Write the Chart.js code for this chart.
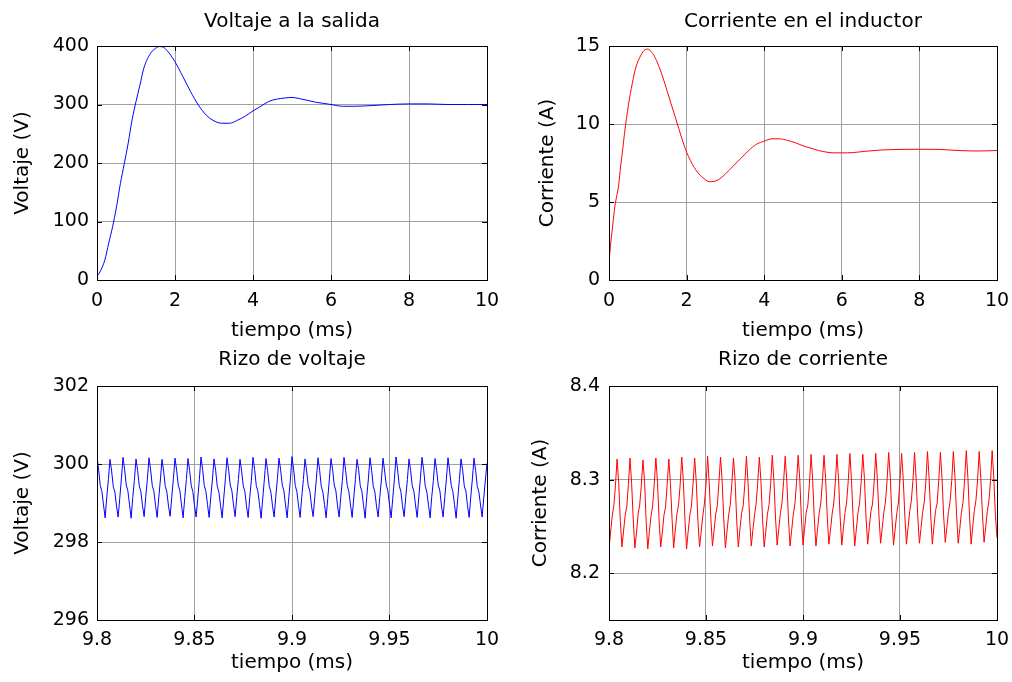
<!DOCTYPE html>
<html>
<head>
<meta charset="utf-8">
<script src="https://cdn.jsdelivr.net/npm/chart.js@4.4.0/dist/chart.umd.min.js"></script>
<style>
  body { margin: 0; background: #fff; }
  #fig { position: relative; width: 1012px; height: 682px; }
  #fig canvas { position: absolute; }
</style>
</head>
<body>
<div id="fig">
  <canvas id="c1" width="506" height="345" style="left:0;top:0"></canvas>
  <canvas id="c2" width="506" height="345" style="left:506px;top:0"></canvas>
  <canvas id="c3" width="506" height="337" style="left:0;top:345px"></canvas>
  <canvas id="c4" width="506" height="337" style="left:506px;top:345px"></canvas>
</div>
<script>
// voltaje a la salida (ms, V)
var tVolt = [0,0.1,0.2,0.3,0.4,0.5,0.6,0.7,0.8,0.9,1.0,1.1,1.2,1.3,1.4,1.5,1.6,1.7,1.8,2.0,2.2,2.4,2.6,2.8,3.0,3.2,3.4,3.6,3.8,4.0,4.2,4.4,4.6,4.8,5.0,5.2,5.4,5.6,5.8,6.0,6.3,6.6,7.0,7.5,8.0,8.5,9.0,9.5,10];
var vSalida = [6,17,34,63,91,125,165,199,234,274,305,333,362,379,390,396,399,398,392,373,348,322,299,282,272,268,268,273,280,289,297,305,309,311,312,310,307,304,302,300,297,297,298,300,301,301,300,300,300];

// corriente en el inductor (ms, A)
var tCorr = [0,0.05,0.1,0.15,0.2,0.25,0.3,0.35,0.4,0.5,0.6,0.7,0.8,0.9,1.0,1.1,1.2,1.3,1.4,1.5,1.6,1.7,1.8,1.9,2.0,2.2,2.4,2.6,2.8,3.0,3.2,3.4,3.6,3.8,4.0,4.2,4.4,4.6,4.8,5.0,5.2,5.4,5.6,5.8,6.0,6.3,6.6,7.0,7.5,8.0,8.5,9.0,9.5,10];
var iInductor = [1.2,2.5,3.6,4.7,5.4,6.1,7.3,8.3,9.4,11.2,12.6,13.7,14.3,14.7,14.8,14.6,14.2,13.6,12.9,12.1,11.3,10.5,9.7,8.9,8.2,7.2,6.6,6.3,6.4,6.8,7.3,7.8,8.3,8.7,8.9,9.05,9.05,8.95,8.8,8.6,8.45,8.3,8.2,8.15,8.15,8.17,8.25,8.33,8.37,8.38,8.37,8.3,8.27,8.3];

// rizo: muestras cada 0.2/240 ms desde 9.8 ms
var tRizo0 = 9.8;
var tRizoPaso = 0.2 / 240;
var rizoV = [
300.18,299.85,299.45,299.30,298.95,298.62,299.15,299.60,
300.12,299.82,299.42,299.28,298.92,298.64,299.12,299.62,
300.17,299.86,299.46,299.31,298.96,298.61,299.14,299.58,
300.13,299.83,299.44,299.29,298.93,298.65,299.16,299.61,
300.16,299.85,299.45,299.30,298.94,298.63,299.13,299.59,
300.12,299.82,299.43,299.28,298.92,298.66,299.15,299.62,
300.15,299.84,299.46,299.31,298.95,298.62,299.14,299.60,
300.14,299.83,299.44,299.29,298.93,298.64,299.12,299.61,
300.18,299.86,299.45,299.30,298.96,298.63,299.15,299.59,
300.13,299.84,299.43,299.28,298.94,298.62,299.13,299.62,
300.16,299.85,299.46,299.31,298.95,298.65,299.16,299.60,
300.12,299.82,299.44,299.29,298.92,298.63,299.14,299.58,
300.17,299.86,299.45,299.30,298.96,298.61,299.12,299.61,
300.14,299.83,299.43,299.28,298.93,298.64,299.15,299.62,
300.15,299.85,299.46,299.31,298.95,298.62,299.13,299.59,
300.19,299.86,299.45,299.29,298.94,298.63,299.16,299.60,
300.13,299.82,299.44,299.30,298.92,298.65,299.14,299.62,
300.16,299.84,299.43,299.28,298.96,298.62,299.12,299.61,
300.14,299.85,299.46,299.31,298.93,298.64,299.15,299.58,
300.17,299.83,299.45,299.29,298.95,298.63,299.13,299.60,
300.12,299.86,299.44,299.30,298.94,298.61,299.16,299.62,
300.16,299.84,299.43,299.28,298.92,298.64,299.14,299.59,
300.15,299.82,299.46,299.31,298.96,298.62,299.12,299.61,
300.18,299.85,299.45,299.29,298.93,298.65,299.15,299.60,
300.13,299.83,299.44,299.30,298.95,298.63,299.13,299.62,
300.17,299.86,299.43,299.28,298.94,298.62,299.16,299.58,
300.14,299.84,299.46,299.31,298.92,298.64,299.14,299.61,
300.16,299.82,299.45,299.29,298.96,298.61,299.12,299.60,
300.13,299.85,299.44,299.30,298.93,298.63,299.15,299.62,
300.15,299.83,299.43,299.28,298.95,298.64,299.13,299.59,
300.02];
var rizoI = [
8.226,8.244,8.261,8.272,8.294,8.322,8.297,8.256,
8.228,8.245,8.262,8.271,8.295,8.323,8.296,8.257,
8.227,8.243,8.263,8.273,8.294,8.321,8.298,8.255,
8.226,8.245,8.261,8.272,8.296,8.323,8.297,8.256,
8.228,8.244,8.262,8.271,8.295,8.322,8.296,8.258,
8.227,8.246,8.263,8.273,8.294,8.324,8.298,8.257,
8.226,8.245,8.262,8.272,8.296,8.323,8.297,8.256,
8.228,8.244,8.261,8.274,8.295,8.325,8.296,8.258,
8.229,8.246,8.263,8.272,8.297,8.324,8.298,8.257,
8.227,8.245,8.262,8.273,8.296,8.323,8.299,8.256,
8.228,8.247,8.264,8.272,8.295,8.325,8.297,8.258,
8.229,8.246,8.262,8.274,8.297,8.324,8.298,8.257,
8.228,8.245,8.263,8.273,8.296,8.326,8.299,8.259,
8.230,8.247,8.264,8.275,8.298,8.325,8.298,8.258,
8.229,8.246,8.263,8.274,8.297,8.326,8.300,8.259,
8.230,8.248,8.265,8.273,8.296,8.327,8.299,8.258,
8.229,8.247,8.264,8.275,8.298,8.326,8.301,8.260,
8.231,8.246,8.263,8.274,8.297,8.327,8.300,8.259,
8.230,8.248,8.265,8.276,8.299,8.328,8.299,8.260,
8.229,8.247,8.264,8.275,8.298,8.327,8.301,8.259,
8.231,8.249,8.266,8.274,8.297,8.328,8.300,8.261,
8.232,8.248,8.265,8.276,8.299,8.329,8.302,8.260,
8.230,8.247,8.264,8.275,8.300,8.328,8.301,8.261,
8.231,8.249,8.266,8.277,8.299,8.329,8.300,8.260,
8.232,8.248,8.265,8.276,8.298,8.330,8.302,8.262,
8.231,8.250,8.267,8.275,8.300,8.329,8.301,8.261,
8.233,8.249,8.266,8.277,8.299,8.330,8.303,8.262,
8.232,8.248,8.265,8.276,8.301,8.331,8.302,8.261,
8.231,8.250,8.267,8.278,8.300,8.330,8.301,8.263,
8.233,8.249,8.266,8.277,8.299,8.331,8.303,8.262,
8.238];

var ticksTiempo = [0,2,4,6,8,10];
var ticksVolt = [0,100,200,300,400];
var ticksCorr = [0,5,10,15];
var ticksTiempoRizo = [9.8,9.85,9.9,9.95,10];
var ticksRizoV = [296,298,300,302];
var ticksRizoI = [8.2,8.3,8.4];

Chart.defaults.font.family = '"DejaVu Sans", Arial, sans-serif';
Chart.defaults.color = '#000';

// caja negra y marcas hacia dentro, como en MATLAB
const cajaPlugin = {
    id: 'caja',
    afterDraw: function(chart) {
        const a = chart.chartArea, ctx = chart.ctx;
        const sx = chart.scales.x, sy = chart.scales.y;
        ctx.save();
        ctx.strokeStyle = '#000';
        ctx.lineWidth = 1;
        ctx.beginPath();
        sx.ticks.forEach(function(t) {
            var px = Math.round(sx.getPixelForValue(t.value)) + 0.5;
            ctx.moveTo(px, a.bottom); ctx.lineTo(px, a.bottom - 5);
            ctx.moveTo(px, a.top); ctx.lineTo(px, a.top + 5);
        });
        sy.ticks.forEach(function(t) {
            var py = Math.round(sy.getPixelForValue(t.value)) + 0.5;
            ctx.moveTo(a.left, py); ctx.lineTo(a.left + 5, py);
            ctx.moveTo(a.right, py); ctx.lineTo(a.right - 5, py);
        });
        ctx.stroke();
        ctx.strokeRect(Math.round(a.left) + 0.5, Math.round(a.top) + 0.5,
                       Math.round(a.right - a.left), Math.round(a.bottom - a.top));
        ctx.restore();
    }
};

function puntos(xs, ys) {
    return ys.map(function(v, i) { return {x: xs[i], y: v}; });
}
function puntosRizo(ys) {
    return ys.map(function(v, i) { return {x: tRizo0 + i * tRizoPaso, y: v}; });
}

function dibujar(id, cfg) {
    const ctx = document.getElementById(id).getContext('2d');
    return new Chart(ctx, {
        type: 'line',
        data: {
            datasets: [{
                data: cfg.data,
                borderColor: cfg.color,
                borderWidth: 1,
                pointRadius: 0,
                cubicInterpolationMode: cfg.suave ? 'monotone' : 'default',
                tension: 0,
                fill: false
            }]
        },
        plugins: [cajaPlugin],
        options: {
            responsive: false,
            animation: false,
            events: [],
            layout: { padding: { left: 0, right: cfg.padRight, top: 0, bottom: 0 } },
            plugins: {
                legend: { display: false },
                tooltip: { enabled: false },
                title: {
                    display: true,
                    fullSize: false,
                    text: cfg.title,
                    font: { size: 20, weight: 'normal' },
                    padding: { top: cfg.titleTop, bottom: cfg.titleBottom }
                }
            },
            scales: {
                x: {
                    type: 'linear',
                    min: cfg.xTicks[0],
                    max: cfg.xTicks[cfg.xTicks.length - 1],
                    afterBuildTicks: function(s) { s.ticks = cfg.xTicks.map(function(v) { return {value: v}; }); },
                    afterFit: function(s) { s.height = cfg.xHeight; s.paddingLeft = 0; s.paddingRight = 0; },
                    ticks: { font: { size: 19 }, padding: cfg.xTickPad, maxRotation: 0, autoSkip: false,
                             callback: function(v) { return String(v); } },
                    grid: { color: '#a0a0a0', lineWidth: 1, drawTicks: false },
                    border: { display: false },
                    title: { display: true, text: 'tiempo (ms)', font: { size: 20 },
                             padding: { top: 0, bottom: cfg.xTitleBottom } }
                },
                y: {
                    type: 'linear',
                    min: cfg.yMin,
                    max: cfg.yMax,
                    afterBuildTicks: function(s) { s.ticks = cfg.yTicks.map(function(v) { return {value: v}; }); },
                    afterFit: function(s) { s.width = cfg.yWidth; s.paddingTop = 0; s.paddingBottom = 0; },
                    ticks: { font: { size: 19 }, padding: cfg.yTickPad, autoSkip: false,
                             callback: function(v) { return String(v); } },
                    grid: { color: '#a0a0a0', lineWidth: 1, drawTicks: false },
                    border: { display: false },
                    title: { display: true, text: cfg.yTitle, font: { size: 20 },
                             padding: { top: cfg.yTitleTop, bottom: 0 } }
                }
            }
        }
    });
}

dibujar('c1', {
    data: puntos(tVolt, vSalida), color: '#0000ff', suave: true,
    title: 'Voltaje a la salida', titleTop: 10, titleBottom: 12,
    xTicks: ticksTiempo, xHeight: 65, xTickPad: 10, xTitleBottom: 2,
    yTicks: ticksVolt, yMin: 0, yMax: 400, yWidth: 97, yTickPad: 8,
    yTitle: 'Voltaje (V)', yTitleTop: 11, padRight: 19
});
dibujar('c2', {
    data: puntos(tCorr, iInductor), color: '#ff0000', suave: true,
    title: 'Corriente en el inductor', titleTop: 10, titleBottom: 12,
    xTicks: ticksTiempo, xHeight: 65, xTickPad: 10, xTitleBottom: 2,
    yTicks: ticksCorr, yMin: 0, yMax: 15, yWidth: 103, yTickPad: 9,
    yTitle: 'Corriente (A)', yTitleTop: 30, padRight: 15
});
dibujar('c3', {
    data: puntosRizo(rizoV), color: '#0000ff', suave: false,
    title: 'Rizo de voltaje', titleTop: 3, titleBottom: 14,
    xTicks: ticksTiempoRizo, xHeight: 62, xTickPad: 9, xTitleBottom: 7,
    yTicks: ticksRizoV, yMin: 296, yMax: 302, yWidth: 97, yTickPad: 8,
    yTitle: 'Voltaje (V)', yTitleTop: 11, padRight: 19
});
dibujar('c4', {
    data: puntosRizo(rizoI), color: '#ff0000', suave: false,
    title: 'Rizo de corriente', titleTop: 3, titleBottom: 14,
    xTicks: ticksTiempoRizo, xHeight: 62, xTickPad: 9, xTitleBottom: 7,
    yTicks: ticksRizoI, yMin: 8.15, yMax: 8.4, yWidth: 103, yTickPad: 9,
    yTitle: 'Corriente (A)', yTitleTop: 23, padRight: 15
});
</script>
</body>
</html>
